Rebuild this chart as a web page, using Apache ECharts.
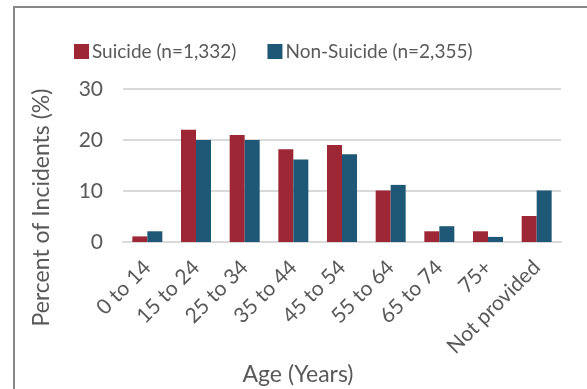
<!DOCTYPE html>
<html>
<head>
<meta charset="utf-8">
<script src="https://cdn.jsdelivr.net/npm/echarts@6/dist/echarts.min.js"></script>
<style>
  html, body { margin: 0; padding: 0; background: #fff; overflow: hidden; }
  #chart { position: absolute; left: 0; top: 0; width: 587px; height: 389px; }
  #frame { position: absolute; left: 13px; top: 6px; width: 640px; height: 440px;
           border: 2px solid #878787; pointer-events: none; }
</style>
</head>
<body>
<div id="chart"></div>
<div id="frame"></div>
<script>
// age groups on the x axis
var categories = ['0 to 14', '15 to 24', '25 to 34', '35 to 44', '45 to 54', '55 to 64', '65 to 74', '75+', 'Not provided']
// percent of incidents
var suicide = [1.1, 22, 21, 18.2, 19, 10.1, 2.1, 2.1, 5.1]
var nonSuicide = [2.1, 20, 20, 16.2, 17.2, 11.2, 3.1, 1, 10.1]
var seriesNames = ['Suicide (n=1,332)', 'Non-Suicide (n=2,355)']

var font = 'Lato'
var chart = echarts.init(document.getElementById('chart'), null, { renderer: 'canvas' })

chart.setOption({
  animation: false,
  textStyle: { fontFamily: font },
  legend: {
    left: 69,
    top: 37,
    itemWidth: 15,
    itemHeight: 15,
    itemGap: 31,
    icon: 'rect',
    textStyle: { fontSize: 19, color: '#595959', fontFamily: font, padding: [0, 0, 0, -2] },
    data: seriesNames
  },
  grid: {
    left: 123,
    top: 89,
    right: 26,
    bottom: 147,
    outerBoundsMode: 'none'
  },
  xAxis: {
    type: 'category',
    data: categories,
    name: 'Age (Years)',
    nameLocation: 'middle',
    nameGap: 121,
    nameTextStyle: { fontSize: 23, color: '#595959', padding: [0, 88, 0, 0] },
    axisLine: { lineStyle: { color: '#d9d9d9', width: 2 } },
    axisTick: { show: false },
    axisLabel: {
      rotate: 45,
      margin: 22,
      interval: 0,
      fontSize: 21,
      color: '#595959'
    }
  },
  yAxis: {
    type: 'value',
    min: 0,
    max: 30,
    interval: 10,
    name: 'Percent of Incidents (%)',
    nameLocation: 'middle',
    nameGap: 70,
    nameTextStyle: { fontSize: 23, color: '#595959', padding: [0, 84, 0, 0] },
    axisLine: { show: false },
    axisTick: { show: false },
    axisLabel: { fontSize: 21, color: '#595959', margin: 20 },
    splitLine: { lineStyle: { color: '#d9d9d9', width: 2 } }
  },
  series: [{
    name: seriesNames[0],
    type: 'bar',
    barWidth: 15,
    barGap: '0%',
    itemStyle: { color: '#9e2735' },
    data: suicide
  }, {
    name: seriesNames[1],
    type: 'bar',
    barWidth: 15,
    barGap: '0%',
    itemStyle: { color: '#1f5777' },
    data: nonSuicide
  }]
})
</script>
</body>
</html>
